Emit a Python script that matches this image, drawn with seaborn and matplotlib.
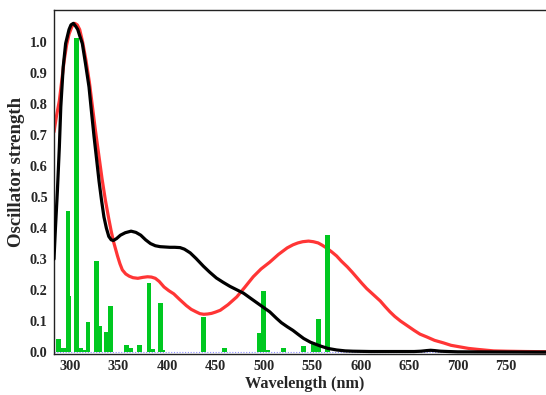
import matplotlib
matplotlib.use("Agg")
import matplotlib.pyplot as plt
import seaborn as sns
import pandas as pd

# ---- data ----
red_nm = [283.5, 286, 289, 291.5, 294, 296.5, 299, 302, 305, 307.5, 310, 313, 316.5, 320, 323,
          326, 329.5, 333, 336.5, 340, 342.5, 345, 349, 351.5, 354, 357.5, 361, 365, 370, 375,
          380, 384, 388, 392, 397, 402, 407, 413, 420, 425, 430, 434, 438, 442, 446, 450, 455,
          463, 472, 480, 489, 497, 506, 515, 524, 530, 535, 540, 546, 551, 556, 560, 565, 570,
          575, 580, 586, 591, 596, 601, 606, 613, 620, 625, 630, 635, 641, 648, 655, 661, 668,
          676, 685, 693, 702, 711, 720, 730, 737, 750, 770, 802]
red_val = [0.71, 0.76, 0.81, 0.875, 0.94, 0.99, 1.025, 1.05, 1.06, 1.055, 1.04, 1.00, 0.94,
           0.87, 0.795, 0.72, 0.64, 0.56, 0.49, 0.43, 0.39, 0.355, 0.31, 0.285, 0.265, 0.252,
           0.245, 0.24, 0.238, 0.241, 0.243, 0.242, 0.238, 0.228, 0.21, 0.198, 0.188, 0.17,
           0.15, 0.138, 0.13, 0.124, 0.122, 0.123, 0.125, 0.129, 0.135, 0.153, 0.178, 0.208,
           0.243, 0.268, 0.29, 0.315, 0.336, 0.346, 0.352, 0.356, 0.358, 0.356, 0.352, 0.345,
           0.335, 0.323, 0.31, 0.293, 0.275, 0.258, 0.24, 0.222, 0.205, 0.185, 0.165, 0.147,
           0.13, 0.115, 0.10, 0.085, 0.07, 0.058, 0.049, 0.038, 0.03, 0.022, 0.017, 0.012,
           0.009, 0.006, 0.004, 0.003, 0.002, 0.001]

black_nm = [283.5, 285, 287, 289, 290.5, 293, 295.5, 299, 301, 303.5, 306, 308, 310, 312.7,
            316, 319.6, 322, 324.8, 327.5, 330, 332.5, 335, 337.5, 340, 342.5, 344.7, 348, 352,
            357, 363, 368, 373, 378, 383, 388, 393, 398, 403, 408, 413.5, 418, 424, 430, 437.6,
            444, 451, 458, 465, 472, 479, 487, 496, 506, 513, 518, 524, 530, 535, 541, 548, 558,
            566, 575, 584, 592, 610, 640, 655, 662, 668, 672, 676, 682, 690, 700, 802]
black_val = [0.30, 0.40, 0.52, 0.66, 0.79, 0.92, 0.995, 1.04, 1.055, 1.06, 1.05, 1.04, 1.02,
             0.995, 0.93, 0.855, 0.78, 0.695, 0.62, 0.55, 0.49, 0.436, 0.40, 0.373, 0.362, 0.36,
             0.366, 0.377, 0.385, 0.39, 0.386, 0.377, 0.362, 0.35, 0.343, 0.34, 0.339, 0.338,
             0.338, 0.337, 0.332, 0.32, 0.302, 0.277, 0.258, 0.239, 0.225, 0.212, 0.201, 0.19,
             0.172, 0.152, 0.13, 0.109, 0.095, 0.082, 0.07, 0.058, 0.044, 0.032, 0.02, 0.012,
             0.007, 0.004, 0.003, 0.002, 0.002, 0.002, 0.003, 0.005, 0.006, 0.005, 0.003, 0.002,
             0.001, 0.0]

stick_nm = [288.5, 293, 298, 299, 307, 311, 315, 318.5, 327.5, 331, 338, 342, 358.5, 362, 372,
            381.5, 385, 393.5, 396, 438, 459, 495.5, 499.5, 504, 520, 540.5, 551, 556.5, 565.5]
stick_f = [0.041, 0.012, 0.455, 0.18, 1.012, 0.012, 0.008, 0.098, 0.295, 0.085, 0.065, 0.148,
           0.022, 0.013, 0.024, 0.223, 0.01, 0.16, 0.006, 0.114, 0.013, 0.062, 0.197, 0.008,
           0.012, 0.02, 0.028, 0.107, 0.377]

base_nm = [283.5, 802]
base_val = [0.0, 0.0]

x_ticks = [300, 350, 400, 450, 500, 550, 600, 650, 700, 750]
y_ticks = [0.0, 0.1, 0.2, 0.3, 0.4, 0.5, 0.6, 0.7, 0.8, 0.9, 1.0]

# ---- plot ----
sns.set_theme(style="white")
plt.rcParams['font.family'] = ['Liberation Serif', 'DejaVu Serif']

fig = plt.figure(figsize=(5.46, 3.95), dpi=100)
ax = fig.add_axes([0.0989, 0.1038, 0.92, 0.8709])

red_df = pd.DataFrame({"nm": red_nm, "f": red_val})
black_df = pd.DataFrame({"nm": black_nm, "f": black_val})
base_df = pd.DataFrame({"nm": base_nm, "f": base_val})

sns.lineplot(data=base_df, x="nm", y="f", ax=ax, color="#8c8cff", lw=0.8,
             linestyle=(0, (1, 1.5)), zorder=1)
sns.lineplot(data=red_df, x="nm", y="f", ax=ax, color="#ff3535", lw=2.3, zorder=2,
             solid_joinstyle='round', solid_capstyle='round')
ax.bar(stick_nm, stick_f, width=5.0, color="#00c820", linewidth=0, zorder=3)
sns.lineplot(data=black_df, x="nm", y="f", ax=ax, color="black", lw=2.3, zorder=4,
             solid_joinstyle='round', solid_capstyle='round')

ax.set_xlim(283.5, 801.6)
ax.set_ylim(-0.006, 1.103)
ax.set_xticks(x_ticks)
ax.set_yticks(y_ticks)
ax.set_yticklabels([f"{v:.1f}" for v in y_ticks])
ax.tick_params(axis='both', length=0, labelsize=10.3)
ax.tick_params(axis='x', pad=4.5)
ax.tick_params(axis='y', pad=4.5)
for lab in ax.get_xticklabels() + ax.get_yticklabels():
    lab.set_fontweight('bold')

ax.set_xlabel("Wavelength (nm)", fontsize=11.7, fontweight='bold')
ax.set_ylabel("Oscillator strength", fontsize=13.5, fontweight='bold')
ax.xaxis.set_label_coords(0.4987, -0.064)
ax.yaxis.set_label_coords(-0.0577, 0.528)

for s in ax.spines.values():
    s.set_color("#222222")
    s.set_linewidth(1.0)
ax.grid(False)

fig.savefig("out.png", dpi=100)
